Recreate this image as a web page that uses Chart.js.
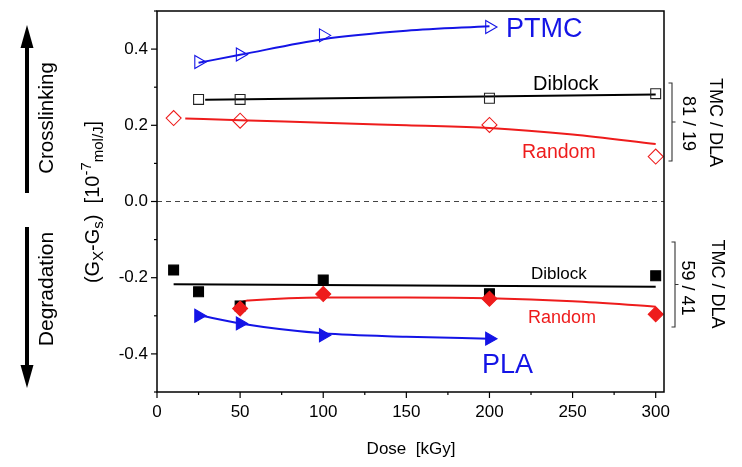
<!DOCTYPE html>
<html>
<head>
<meta charset="utf-8">
<script src="https://cdn.jsdelivr.net/npm/chart.js@4/dist/chart.umd.min.js"></script>
<style>
  html, body { margin: 0; padding: 0; background: #fff; }
  #wrap { width: 742px; height: 467px; }
</style>
</head>
<body>
<div id="wrap"><canvas id="c" width="742" height="467"></canvas></div>
<script>
// ---------- data ----------
const ptmcDose = [25, 50, 100, 200];
const ptmcG = [0.366, 0.386, 0.436, 0.458];
const ptmcFitDose = [25, 50, 100, 150, 200];
const ptmcFitG = [0.364, 0.385, 0.426, 0.448, 0.460];

const diblockXDose = [25, 50, 200, 300];
const diblockXG = [0.268, 0.268, 0.271, 0.283];
const diblockXFitDose = [29, 300];
const diblockXFitG = [0.267, 0.281];

const randomXDose = [10, 50, 200, 300];
const randomXG = [0.219, 0.212, 0.201, 0.118];
const randomXFitDose = [17, 50, 100, 150, 200, 250, 300];
const randomXFitG = [0.218, 0.213, 0.207, 0.200, 0.193, 0.176, 0.151];

const diblockDDose = [10, 25, 50, 100, 200, 300];
const diblockDG = [-0.180, -0.237, -0.274, -0.206, -0.242, -0.195];
const diblockDFitDose = [10, 300];
const diblockDFitG = [-0.217, -0.224];

const randomDDose = [50, 100, 200, 300];
const randomDG = [-0.281, -0.243, -0.255, -0.296];
const randomDFitDose = [50, 51, 55, 100, 150, 200, 250, 300];
const randomDFitG = [-0.281, -0.265, -0.260, -0.252, -0.252, -0.254, -0.262, -0.276];

const plaDose = [25, 50, 100, 200];
const plaG = [-0.300, -0.320, -0.351, -0.360];
const plaFitDose = [25, 50, 100, 150, 200];
const plaFitG = [-0.298, -0.320, -0.346, -0.355, -0.360];

const xTickValues = [0, 50, 100, 150, 200, 250, 300];
const yTickValues = [-0.4, -0.2, 0.0, 0.2, 0.4];

// ---------- helpers ----------
const BLUE = '#1414e6';
const RED = '#ee1c1c';
const BLACK = '#000000';
const FONT = '"Liberation Sans", Arial, sans-serif';
const pts = (xs, ys) => xs.map((x, i) => ({ x: x, y: ys[i] }));

function markers(label, xs, ys, style, color, filled, rot, radius) {
  return {
    label: label, data: pts(xs, ys), showLine: false,
    pointStyle: style, pointRotation: rot || 0, pointRadius: radius,
    pointBorderColor: color, pointBorderWidth: 1.1,
    pointBackgroundColor: filled ? color : 'rgba(0,0,0,0)'
  };
}
function fit(label, xs, ys, color) {
  return {
    label: label, data: pts(xs, ys), showLine: true, pointRadius: 0,
    borderColor: color, borderWidth: 2, cubicInterpolationMode: 'monotone'
  };
}

const datasets = [
  markers('Random 59/41', randomDDose, randomDG, 'rectRot', RED, true, 0, 7.5),
  markers('Diblock 59/41', diblockDDose, diblockDG, 'rect', BLACK, true, 0, 7),
  markers('PLA', plaDose, plaG, 'triangle', BLUE, true, 90, 7.5),
  markers('PTMC', ptmcDose, ptmcG, 'triangle', BLUE, false, 90, 7.5),
  markers('Diblock 81/19', diblockXDose, diblockXG, 'rect', '#222', false, 0, 7),
  markers('Random 81/19', randomXDose, randomXG, 'rectRot', RED, false, 0, 7.5),
  fit('PTMC fit', ptmcFitDose, ptmcFitG, BLUE),
  fit('Diblock 81/19 fit', diblockXFitDose, diblockXFitG, BLACK),
  fit('Random 81/19 fit', randomXFitDose, randomXFitG, RED),
  fit('Diblock 59/41 fit', diblockDFitDose, diblockDFitG, BLACK),
  fit('Random 59/41 fit', randomDFitDose, randomDFitG, RED),
  fit('PLA fit', plaFitDose, plaFitG, BLUE)
];

function drawRich(ctx, parts, cx, cy, rot) {
  ctx.save();
  ctx.translate(cx, cy);
  ctx.rotate(rot);
  let total = 0;
  parts.forEach(p => { ctx.font = p.size + 'px ' + FONT; p.w = ctx.measureText(p.t).width; total += p.w; });
  let x = -total / 2;
  ctx.textBaseline = 'alphabetic';
  ctx.textAlign = 'left';
  parts.forEach(p => {
    ctx.font = p.size + 'px ' + FONT;
    ctx.fillText(p.t, x, 7 + (p.dy || 0));
    x += p.w;
  });
  ctx.restore();
}
function rotText(ctx, t, size, cx, cy, rot, color) {
  ctx.save();
  ctx.translate(cx, cy);
  ctx.rotate(rot);
  ctx.font = size + 'px ' + FONT;
  ctx.fillStyle = color;
  ctx.textAlign = 'center';
  ctx.textBaseline = 'middle';
  ctx.fillText(t, 0, 0);
  ctx.restore();
}

const decor = {
  id: 'decor',
  beforeDatasetsDraw(chart) {
    const ctx = chart.ctx, a = chart.chartArea, ys = chart.scales.y;
    const y0 = ys.getPixelForValue(0);
    ctx.save();
    ctx.strokeStyle = '#444';
    ctx.lineWidth = 1.2;
    ctx.setLineDash([5, 4]);
    ctx.beginPath(); ctx.moveTo(a.left, y0); ctx.lineTo(a.right, y0); ctx.stroke();
    ctx.restore();
  },
  afterDraw(chart) {
    const ctx = chart.ctx, a = chart.chartArea, xs = chart.scales.x, ys = chart.scales.y;
    ctx.save();
    // frame
    ctx.strokeStyle = '#000'; ctx.lineWidth = 1.5;
    ctx.strokeRect(a.left, a.top, a.right - a.left, a.bottom - a.top);
    // ticks
    ctx.lineWidth = 1.2;
    for (let v = 0; v <= 300; v += 25) {
      const px = xs.getPixelForValue(v);
      const len = (v % 50 === 0) ? 6 : 3;
      ctx.beginPath(); ctx.moveTo(px, a.bottom); ctx.lineTo(px, a.bottom + len); ctx.stroke();
    }
    for (let k = -5; k <= 5; k++) {
      const py = ys.getPixelForValue(k / 10);
      const len = (k % 2 === 0) ? 6 : 3;
      ctx.beginPath(); ctx.moveTo(a.left, py); ctx.lineTo(a.left - len, py); ctx.stroke();
    }
    // in-plot labels
    ctx.textAlign = 'left'; ctx.textBaseline = 'alphabetic';
    const lab = (t, size, x, y, color) => { ctx.font = size + 'px ' + FONT; ctx.fillStyle = color; ctx.fillText(t, x, y); };
    lab('PTMC', 27, 506, 37, BLUE);
    lab('Diblock', 20, 533, 90, BLACK);
    lab('Random', 19.5, 522, 158, RED);
    lab('Diblock', 17, 531, 279, BLACK);
    lab('Random', 18, 528, 323, RED);
    lab('PLA', 27, 482, 373, BLUE);
    // x title
    ctx.font = '17px ' + FONT; ctx.fillStyle = '#000'; ctx.textAlign = 'center';
    ctx.fillText('Dose  [kGy]', 411, 454);
    // y title
    ctx.fillStyle = '#000';
    drawRich(ctx, [
      { t: '(G', size: 20 }, { t: 'X', size: 15, dy: 4 }, { t: '-G', size: 20 }, { t: 's', size: 15, dy: 4 },
      { t: ')  [10', size: 20 }, { t: '-7', size: 15, dy: -8 }, { t: 'mol/J', size: 15, dy: 4 }, { t: ']', size: 20 }
    ], 92, 202, -Math.PI / 2);
    // arrows
    ctx.fillStyle = '#000'; ctx.strokeStyle = '#000'; ctx.lineWidth = 4;
    ctx.beginPath(); ctx.moveTo(27, 193); ctx.lineTo(27, 44); ctx.stroke();
    ctx.beginPath(); ctx.moveTo(27, 25); ctx.lineTo(33.5, 48); ctx.lineTo(20.5, 48); ctx.closePath(); ctx.fill();
    ctx.beginPath(); ctx.moveTo(27, 227); ctx.lineTo(27, 369); ctx.stroke();
    ctx.beginPath(); ctx.moveTo(27, 388); ctx.lineTo(33.5, 365); ctx.lineTo(20.5, 365); ctx.closePath(); ctx.fill();
    rotText(ctx, 'Crosslinking', 20.5, 47, 118, -Math.PI / 2, '#000');
    rotText(ctx, 'Degradation', 21, 47, 289, -Math.PI / 2, '#000');
    // right brackets
    ctx.strokeStyle = '#333'; ctx.lineWidth = 1.1;
    const bracket = (x, y1, y2) => {
      const ym = (y1 + y2) / 2;
      ctx.beginPath();
      ctx.moveTo(x - 3.5, y1); ctx.lineTo(x, y1); ctx.lineTo(x, y2); ctx.lineTo(x - 3.5, y2);
      ctx.moveTo(x, ym); ctx.lineTo(x + 3.5, ym);
      ctx.stroke();
    };
    bracket(672, 83, 161);
    bracket(675, 242, 327);
    rotText(ctx, 'TMC / DLA', 18, 715, 122.5, Math.PI / 2, '#000');
    rotText(ctx, '81 / 19', 18, 688, 123.5, Math.PI / 2, '#000');
    rotText(ctx, 'TMC / DLA', 18, 717, 284, Math.PI / 2, '#000');
    rotText(ctx, '59 / 41', 18, 687, 288, Math.PI / 2, '#000');
    ctx.restore();
  }
};

new Chart(document.getElementById('c'), {
  type: 'scatter',
  data: { datasets: datasets },
  plugins: [decor],
  options: {
    responsive: false,
    devicePixelRatio: 1,
    animation: false,
    layout: { padding: { top: 11, right: 78, left: 0, bottom: 0 } },
    plugins: { legend: { display: false }, tooltip: { enabled: false } },
    scales: {
      x: {
        type: 'linear', min: 0, max: 305,
        grid: { display: false, drawTicks: false },
        border: { display: false },
        afterFit: s => { s.height = 75; s.paddingLeft = 0; s.paddingRight = 0; },
        afterBuildTicks: s => { s.ticks = xTickValues.map(v => ({ value: v })); },
        ticks: {
          padding: 10, color: '#000', maxRotation: 0, autoSkip: false,
          font: { family: FONT, size: 17 },
          callback: v => String(v)
        }
      },
      y: {
        type: 'linear', min: -0.5, max: 0.5,
        grid: { display: false, drawTicks: false },
        border: { display: false },
        afterFit: s => { s.width = 157; s.paddingTop = 0; s.paddingBottom = 0; },
        afterBuildTicks: s => { s.ticks = yTickValues.map(v => ({ value: v })); },
        ticks: {
          padding: 9, color: '#000', autoSkip: false,
          font: { family: FONT, size: 17 },
          callback: v => Number(v).toFixed(1)
        }
      }
    }
  }
});
</script>
</body>
</html>
